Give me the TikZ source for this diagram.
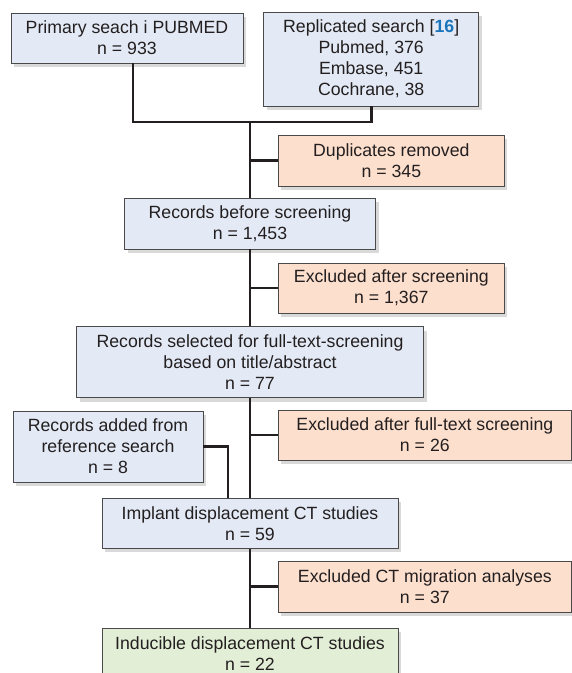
\documentclass[tikz,border=0pt]{standalone}
\usepackage{fontspec}
\setmainfont{Liberation Sans}
\usepackage{xcolor}
\usetikzlibrary{positioning, shadows, calc}
\definecolor{ink}{HTML}{231F20}
\definecolor{boxline}{HTML}{4A4A4A}
\definecolor{bluebox}{HTML}{E3EAF5}
\definecolor{orangebox}{HTML}{FDDFCD}
\definecolor{greenbox}{HTML}{E3EED6}
\definecolor{refblue}{HTML}{1B75BB}

\begin{document}
\begin{tikzpicture}[
    x=1pt, y=-1pt,
    box/.style={draw=boxline, line width=0.7pt, fill=#1, align=center, inner sep=0pt, text=ink,
        font=\fontsize{17.7}{21}\selectfont,
        drop shadow={shadow xshift=3pt, shadow yshift=-4pt, opacity=0.3}},
    link/.style={draw=ink, line width=2.6pt}
]
\useasboundingbox (0,0) rectangle (572,673);

% Sources
\node[box=bluebox, minimum width=232pt, minimum height=50pt] (Primary) at (127,38) {
    Primary seach i PUBMED\\
    n = 933
};
\node[box=bluebox, minimum width=215pt, minimum height=94pt, right=20pt of Primary.north east, anchor=north west, yshift=1pt] (Replicated) {
    Replicated search [\textcolor{refblue}{\textbf{16}}]\\
    Pubmed, 376\\
    Embase, 451\\
    Cochrane, 38
};

% Main column
\node[box=bluebox, minimum width=251pt, minimum height=51pt] (Before) at (250,223.5) {
    Records before screening\\
    n = 1,453
};
\node[box=bluebox, minimum width=347pt, minimum height=71pt, below=77pt of Before] (Selected) {
    Records selected for full-text-screening\\
    based on title/abstract\\
    n = 77
};
\node[box=bluebox, minimum width=296pt, minimum height=50pt, below=100pt of Selected] (Implant) {
    Implant displacement CT studies\\
    n = 59
};
\node[box=greenbox, minimum width=296pt, minimum height=50pt, below=79pt of Implant] (Inducible) {
    Inducible displacement CT studies\\
    n = 22
};

% Side boxes
\node[box=orangebox, minimum width=226pt, minimum height=51pt, anchor=west] (Duplicates) at (278,160.5) {
    Duplicates removed\\
    n = 345
};
\node[box=orangebox, minimum width=226pt, minimum height=50pt, anchor=west] (ExclScreen) at (278,288) {
    Excluded after screening\\
    n = 1,367
};
\node[box=bluebox, minimum width=190pt, minimum height=71pt] (Added) at (108,446.5) {
    Records added from\\
    reference search\\
    n = 8
};
\node[box=orangebox, minimum width=293pt, minimum height=50pt, anchor=west] (ExclFull) at (278,435) {
    Excluded after full-text screening\\
    n = 26
};
\node[box=orangebox, minimum width=293pt, minimum height=51pt, anchor=west] (ExclCT) at (278,586.5) {
    Excluded CT migration analyses\\
    n = 37
};

% Connections
\coordinate (Merge) at (250,122);
\draw[link] ([xshift=6pt]Primary.south) |- (Merge) -| (Replicated.south);
\draw[link] (Merge) -- (Before.north);
\draw[link] (Merge |- Duplicates.west) -- (Duplicates.west);
\draw[link] (Before.south) -- (Selected.north);
\draw[link] (Before.south |- ExclScreen.west) -- (ExclScreen.west);
\draw[link] (Selected.south) -- (Implant.north);
\draw[link] (Selected.south |- ExclFull.west) -- (ExclFull.west);
\draw[link] (Added.east) -| ([xshift=-22pt]Implant.north);
\draw[link] (Implant.south) -- (Inducible.north);
\draw[link] (Implant.south |- ExclCT.west) -- (ExclCT.west);

\end{tikzpicture}
\end{document}
